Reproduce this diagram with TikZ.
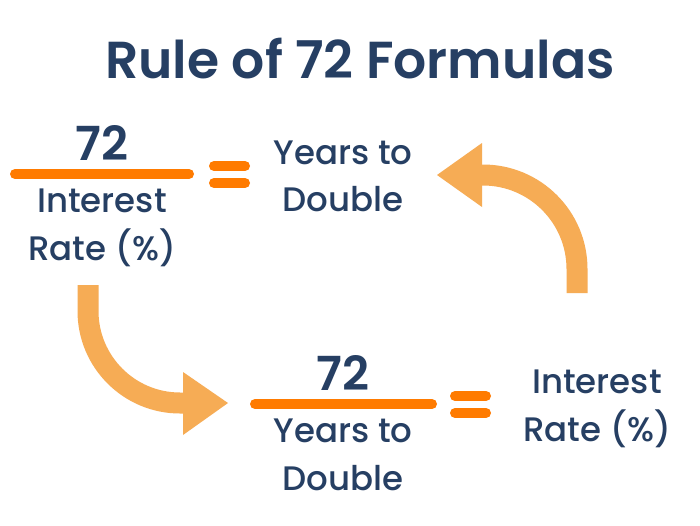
\documentclass[tikz,border=0pt]{standalone}
\usepackage{fontspec}
\setmainfont{Poppins}[UprightFont=* Medium, BoldFont=* SemiBold]
\definecolor{navy}{HTML}{263F63}
\definecolor{lineor}{HTML}{FF7B00}
\definecolor{arrowor}{HTML}{F6AC55}
\begin{document}
\begin{tikzpicture}[x=1pt,y=-1pt,
 txt/.style={text=navy, font=\fontsize{34}{40}\selectfont, anchor=base, inner sep=0},
 num/.style={text=navy, font=\fontsize{47}{54}\selectfont\bfseries, anchor=base, inner sep=0},
 ttl/.style={text=navy, font=\fontsize{52}{60}\selectfont\bfseries, anchor=base, inner sep=0},
 bar/.style={draw=lineor, line width=10, line cap=round},
 shaft/.style={draw=arrowor, line width=21},
 head/.style={fill=arrowor}]
\useasboundingbox[fill=white] (0,0) rectangle (700,525);
\node[ttl] (title) at (360,78) {Rule of 72 Formulas};
% top formula
\node[num] (n1) at (102,160) {72};
\coordinate (b1l) at (15,174);
\coordinate (b1r) at (189,174);
\draw[bar] (b1l) -- (b1r);
\node[txt] (d1a) at (102,212) {Interest};
\node[txt] (d1b) at (102,260) {Rate (\%)};
\coordinate (e1a) at (214,166); \coordinate (e1b) at (245,166);
\coordinate (e1c) at (214,183); \coordinate (e1d) at (245,183);
\draw[bar] (e1a) -- (e1b);
\draw[bar] (e1c) -- (e1d);
\node[txt] (r1a) at (343,164) {Years to};
\node[txt] (r1b) at (343,211) {Double};
% bottom formula
\node[num] (n2) at (343,390) {72};
\coordinate (b2l) at (255,404);
\coordinate (b2r) at (432,404);
\draw[bar] (b2l) -- (b2r);
\node[txt] (d2a) at (343,442) {Years to};
\node[txt] (d2b) at (343,490) {Double};
\coordinate (e2a) at (455,396); \coordinate (e2b) at (486,396);
\coordinate (e2c) at (455,413); \coordinate (e2d) at (486,413);
\draw[bar] (e2a) -- (e2b);
\draw[bar] (e2c) -- (e2d);
\node[txt] (r2a) at (597,393) {Interest};
\node[txt] (r2b) at (597,441) {Rate (\%)};
% top-right curved arrow
\draw[shaft] (577,293) -- (577,269) arc(0:-90:94) -- (480,175);
\fill[head] (482,143) -- (437,175) -- (482,207) -- cycle;
% bottom-left curved arrow
\draw[shaft] (88,285) -- (88,311) arc(180:90:92) -- (185,403);
\fill[head] (183,372) -- (228,403) -- (183,435) -- cycle;
\end{tikzpicture}
\end{document}
